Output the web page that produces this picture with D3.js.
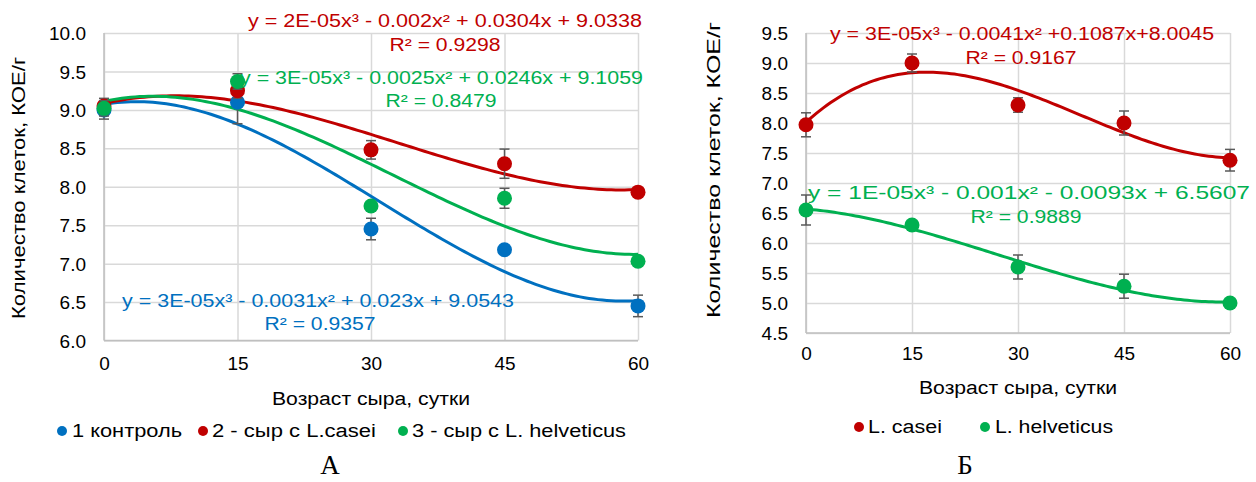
<!DOCTYPE html>
<html><head><meta charset="utf-8">
<script src="https://cdn.jsdelivr.net/npm/d3@7"></script>
<style>body{margin:0;background:#fff}svg{display:block}</style>
</head><body>
<svg id="c" width="1256" height="482" font-family="Liberation Sans, Arial, sans-serif"></svg>
<script>
// ---------- data ----------
const days = [0, 15, 30, 45, 60];
const xTicks = [0, 15, 30, 45, 60];
const yTicksA = [6.0, 6.5, 7.0, 7.5, 8.0, 8.5, 9.0, 9.5, 10.0];
const yTicksB = [4.5, 5.0, 5.5, 6.0, 6.5, 7.0, 7.5, 8.0, 8.5, 9.0, 9.5];

const controlA = [9.0, 9.1, 7.45, 7.18, 6.45];
const controlAerr = [0.12, 0.28, 0.14, 0.05, 0.14];
const caseiA = [9.05, 9.25, 8.48, 8.3, 7.93];
const caseiAerr = [0.1, 0.1, 0.12, 0.19, 0.05];
const helvA = [9.02, 9.37, 7.75, 7.85, 7.03];
const helvAerr = [0.1, 0.1, 0.05, 0.13, 0.03];

const caseiB = [7.97, 9.0, 8.3, 8.0, 7.38];
const caseiBerr = [0.2, 0.15, 0.12, 0.2, 0.18];
const helvB = [6.55, 6.3, 5.6, 5.28, 5.0];
const helvBerr = [0.25, 0.07, 0.2, 0.2, 0.05];

const legendA = ["1 контроль", "2 - сыр с L.casei", "3 - сыр с L. helveticus"];
const legendB = ["L. casei", "L. helveticus"];
const eqA = ["y = 3E-05x³ - 0.0031x² + 0.023x + 9.0543", "y = 2E-05x³ - 0.002x² + 0.0304x + 9.0338", "y = 3E-05x³ - 0.0025x² + 0.0246x + 9.1059"];
const r2A = ["R² = 0.9357", "R² = 0.9298", "R² = 0.8479"];
const eqB = ["y = 3E-05x³ - 0.0041x² +0.1087x+8.0045", "y = 1E-05x³ - 0.001x² - 0.0093x + 6.5607"];
const r2B = ["R² = 0.9167", "R² = 0.9889"];
const yTitle = "Количество клеток, КОЕ/г";
const xTitle = "Возраст сыра, сутки";

const BLUE = "#0070C0", RED = "#C00000", GREEN = "#00B050";

// ---------- cubic least squares (trendline) ----------
function cubicFit(xs, ys) {
  const n = 4, A = [], b = [];
  for (let i = 0; i < n; i++) {
    A.push([]); b.push(0);
    for (let j = 0; j < n; j++) A[i].push(d3.sum(xs, x => Math.pow(x, i + j)));
    b[i] = d3.sum(xs, (x, k) => Math.pow(x, i) * ys[k]);
  }
  for (let c = 0; c < n; c++) {
    let p = c;
    for (let r = c + 1; r < n; r++) if (Math.abs(A[r][c]) > Math.abs(A[p][c])) p = r;
    [A[c], A[p]] = [A[p], A[c]]; [b[c], b[p]] = [b[p], b[c]];
    for (let r = 0; r < n; r++) if (r !== c) {
      const f = A[r][c] / A[c][c];
      for (let k = c; k < n; k++) A[r][k] -= f * A[c][k];
      b[r] -= f * b[c];
    }
  }
  const co = b.map((v, i) => v / A[i][i]);
  return x => co[0] + co[1] * x + co[2] * x * x + co[3] * x * x * x;
}

const svg = d3.select("#c");

function txt(g, s, x, y, opt) {
  const t = g.append("text").attr("x", x).attr("y", y).text(s)
    .attr("font-size", opt.size || 18).attr("fill", opt.fill || "#000")
    .attr("text-anchor", opt.anchor || "start");
  if (opt.len) t.attr("textLength", opt.len).attr("lengthAdjust", "spacingAndGlyphs");
  if (opt.family) t.style("font-family", opt.family);
  return t;
}

function panel(cfg) {
  const g = svg.append("g");
  const x = d3.scaleLinear().domain([0, 60]).range([cfg.x0, cfg.x1]);
  const y = d3.scaleLinear().domain(cfg.yDom).range([cfg.y0, cfg.y1]);
  // grid
  g.append("g").attr("transform", `translate(0,${cfg.y0})`)
    .call(d3.axisBottom(x).tickValues(xTicks).tickSize(cfg.y1 - cfg.y0).tickFormat(""))
    .call(a => a.select(".domain").remove())
    .selectAll("line").attr("stroke", "#d9d9d9").attr("stroke-width", 1.5);
  g.append("g").attr("transform", `translate(${cfg.x0},0)`)
    .call(d3.axisRight(y).tickValues(cfg.yTicks).tickSize(cfg.x1 - cfg.x0).tickFormat(""))
    .call(a => a.select(".domain").remove())
    .selectAll("line").attr("stroke", "#d9d9d9").attr("stroke-width", 1.5);
  // axis lines
  g.append("line").attr("x1", x(0)).attr("x2", x(0)).attr("y1", y(cfg.yDom[0])).attr("y2", y(cfg.yDom[1])).attr("stroke", "#bfbfbf").attr("stroke-width", 1.5);
  g.append("line").attr("x1", x(0)).attr("x2", x(60)).attr("y1", y(cfg.yDom[0])).attr("y2", y(cfg.yDom[0])).attr("stroke", "#bfbfbf").attr("stroke-width", 1.5);
  // tick labels
  const yl = g.append("g").attr("transform", `translate(${cfg.x0 - 8},0)`)
    .call(d3.axisLeft(y).tickValues(cfg.yTicks).tickSize(0).tickPadding(10).tickFormat(d3.format(".1f")));
  yl.select(".domain").remove();
  yl.attr("font-family", "Liberation Sans, Arial, sans-serif");
  yl.selectAll("text").attr("font-size", 19).attr("fill", "#000").attr("dy", "0.35em");
  const xl = g.append("g").attr("transform", `translate(0,${cfg.y0})`)
    .call(d3.axisBottom(x).tickValues(xTicks).tickSize(0).tickPadding(cfg.xPad));
  xl.select(".domain").remove();
  xl.attr("font-family", "Liberation Sans, Arial, sans-serif");
  xl.selectAll("text").attr("font-size", 19).attr("fill", "#000");
  // titles
  txt(g, xTitle, cfg.xtX, cfg.xtY, { size: 18, anchor: "middle", len: 198 });
  txt(g, yTitle, 0, 0, { size: 18, anchor: "middle", len: cfg.ytLen })
    .attr("transform", `translate(${cfg.ytX},${cfg.ytY}) rotate(-90)`);
  // series
  const line = d3.line().x(d => x(d[0])).y(d => y(d[1])).curve(d3.curveLinear);
  const tr = g.append("g");
  cfg.series.forEach(s => {
    const f = cubicFit(days, s.vals);
    const pts = d3.range(0, 60.01, 0.5).map(t => [t, f(t)]);
    tr.append("path").attr("d", line(pts)).attr("fill", "none").attr("stroke", s.color).attr("stroke-width", 3);
  });
  cfg.series.forEach(s => {
    const ge = g.append("g");
    s.vals.forEach((v, i) => {
      const cx = x(days[i]), lo = y(v - s.err[i]), hi = y(v + s.err[i]);
      ge.append("line").attr("x1", cx).attr("x2", cx).attr("y1", lo).attr("y2", hi).attr("stroke", "#595959").attr("stroke-width", 1.5);
      [lo, hi].forEach(yy => ge.append("line").attr("x1", cx - 5).attr("x2", cx + 5).attr("y1", yy).attr("y2", yy).attr("stroke", "#595959").attr("stroke-width", 1.5));
    });
    g.append("g").selectAll("circle").data(s.vals).join("circle")
      .attr("cx", (d, i) => x(days[i])).attr("cy", d => y(d)).attr("r", 7.5).attr("fill", s.color);
  });
  return g;
}

const gA = panel({
  x0: 104, x1: 638, y0: 340.5, y1: 33, yDom: [6, 10], yTicks: yTicksA, xPad: 16,
  xtX: 371, xtY: 405, ytX: 25, ytY: 188, ytLen: 262,
  series: [
    { vals: controlA, err: controlAerr, color: BLUE },
    { vals: caseiA, err: caseiAerr, color: RED },
    { vals: helvA, err: helvAerr, color: GREEN }
  ]
});
// equations A
txt(gA, eqA[1], 248, 27, { fill: RED, len: 394 });
txt(gA, r2A[1], 445, 51, { fill: RED, anchor: "middle", len: 111 });
txt(gA, eqA[2], 240, 84, { fill: GREEN, len: 403 });
txt(gA, r2A[2], 441, 107, { fill: GREEN, anchor: "middle", len: 111 });
txt(gA, eqA[0], 122, 307, { fill: BLUE, len: 392 });
txt(gA, r2A[0], 320, 330, { fill: BLUE, anchor: "middle", len: 111 });
// legend A
[[62, 72, 110, BLUE], [203, 212, 164, RED], [403, 412, 214, GREEN]].forEach((l, i) => {
  gA.append("circle").attr("cx", l[0]).attr("cy", 431).attr("r", 5).attr("fill", l[3]);
  txt(gA, legendA[i], l[1], 437, { size: 18, len: l[2] });
});
txt(gA, "А", 330, 474, { size: 27, anchor: "middle", family: "'Liberation Serif', 'Times New Roman', serif" });

const gB = panel({
  x0: 806, x1: 1230, y0: 333, y1: 33, yDom: [4.5, 9.5], yTicks: yTicksB, xPad: 14,
  xtX: 1018, xtY: 394, ytX: 720, ytY: 170, ytLen: 296,
  series: [
    { vals: caseiB, err: caseiBerr, color: RED },
    { vals: helvB, err: helvBerr, color: GREEN }
  ]
});
txt(gB, eqB[0], 830, 40, { fill: RED, len: 384 });
txt(gB, r2B[0], 1021, 64, { fill: RED, anchor: "middle", len: 111 });
txt(gB, eqB[1], 808, 199, { fill: GREEN, len: 442 });
txt(gB, r2B[1], 1026, 223, { fill: GREEN, anchor: "middle", len: 111 });
[[859, 868, 74, RED], [985, 995, 118, GREEN]].forEach((l, i) => {
  gB.append("circle").attr("cx", l[0]).attr("cy", 427).attr("r", 5).attr("fill", l[3]);
  txt(gB, legendB[i], l[1], 433, { size: 18, len: l[2] });
});
txt(gB, "Б", 965, 474, { size: 27, anchor: "middle", family: "'Liberation Serif', 'Times New Roman', serif" });
</script>
</body></html>
